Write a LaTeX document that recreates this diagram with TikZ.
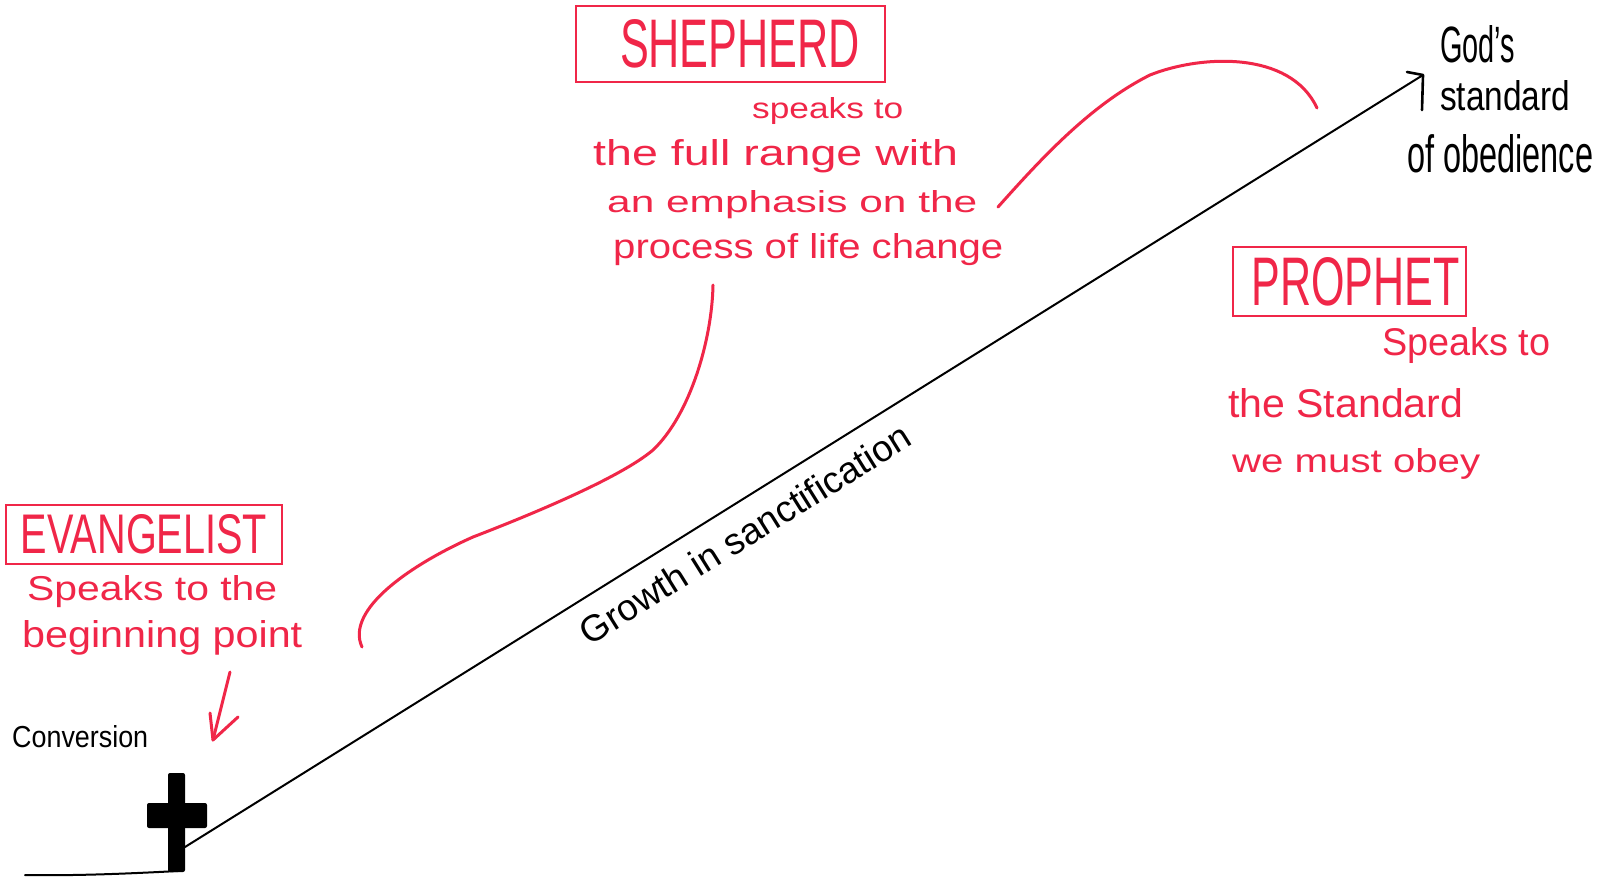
\documentclass[tikz,border=0pt]{standalone}
\usepackage{fontspec}
\usepackage{graphicx}
\setmainfont{Liberation Sans}
\definecolor{ink}{RGB}{240,38,72}
\newcommand{\hw}[3]{\resizebox{#1pt}{#2pt}{#3}}
\tikzset{
  redbox/.style={draw=ink, line width=1.6pt, inner sep=0pt, text=ink},
  redtxt/.style={text=ink, inner sep=0pt, anchor=base west},
  blktxt/.style={text=black, inner sep=0pt, anchor=base west},
  redline/.style={draw=ink, line width=3pt, line cap=round, line join=round},
  blkline/.style={draw=black, line width=2pt, line cap=round, line join=round}
}
\begin{document}
\begin{tikzpicture}[x=1pt,y=-1pt]
\useasboundingbox (0,0) rectangle (1600,883);
\fill[white] (0,0) rectangle (1600,883);

% ---- boxes with titles ----
\node[redbox, minimum width=309pt, minimum height=76pt] (shep) at (730.5,44) {\hspace{19pt}\hw{240}{48}{SHEPHERD}};
\node[redbox, minimum width=233pt, minimum height=69pt] (proph) at (1349.5,281.5) {\hspace{12pt}\hw{208}{48}{PROPHET}};
\node[redbox, minimum width=276pt, minimum height=59pt] (evan) at (144,534.5) {\hw{246}{39}{EVANGELIST}};

% ---- shepherd text ----
\node[redtxt] (s1) at (752,118) {\hw{151}{21}{speaks to}};
\node[redtxt] (s2) at (593,165) {\hw{365}{26}{the full range with}};
\node[redtxt] (s3) at (607,212) {\hw{370}{22}{an emphasis on the}};
\node[redtxt] (s4) at (613,258) {\hw{390}{25}{process of life change}};

% ---- prophet text ----
\node[redtxt] (p1) at (1382,355) {\hw{168}{28}{Speaks to}};
\node[redtxt] (p2) at (1228,417) {\hw{235}{29}{the Standard}};
\node[redtxt] (p3) at (1232,472) {\hw{248}{24}{we must obey}};

% ---- evangelist text ----
\node[redtxt] (e1) at (27,600) {\hw{250}{25}{Speaks to the}};
\node[redtxt] (e2) at (22,647) {\hw{280}{27}{beginning point}};

% ---- black labels ----
\node[blktxt] (g1) at (1440,62) {\hw{75}{37}{God's}};
\node[blktxt] (g2) at (1440,110) {\hw{130}{30}{standard}};
\node[blktxt] (g3) at (1407,172) {\hw{186}{38}{of obedience}};
\node[blktxt] (conv) at (12,747) {\hw{136}{22}{Conversion}};
\node[text=black, inner sep=0pt, rotate=32, font=\fontsize{37}{37}\selectfont] (grow) at (745,534) {Growth in sanctification};

% ---- cross and ground ----
\fill[black, rounded corners=2pt] (168,773) rectangle (185,872);
\fill[black, rounded corners=2pt] (147,803) rectangle (207,828);
\coordinate (groundL) at (25,875);
\coordinate (crossfoot) at (178,871);
\draw[blkline] (groundL) .. controls (80,876) and (140,873) .. (crossfoot);

% ---- main growth line with arrow ----
\coordinate (start) at (185,847);
\coordinate (goal) at (1423,75);
\coordinate (barbA) at (1407,72);
\coordinate (barbB) at (1422,110);
\draw[blkline] (start) -- (goal);
\draw[blkline, line width=2.6pt] (barbA) -- (goal) -- (barbB);

% ---- evangelist arrow ----
\coordinate (ea1) at (230,672);
\coordinate (ea2) at (213,740);
\coordinate (eb1) at (210,713);
\coordinate (eb2) at (238,717);
\draw[redline] (ea1) -- (ea2);
\draw[redline] (eb1) -- (ea2) -- (eb2);

% ---- shepherd range curves ----
\coordinate (lc1) at (713,285);
\coordinate (lc2) at (362,647);
\draw[redline] (lc1) .. controls (712,340) and (690,415) .. (653,450)
  .. controls (620,478) and (530,515) .. (473,537)
  .. controls (410,565) and (345,610) .. (lc2);
\coordinate (uc1) at (998,207);
\coordinate (uc2) at (1317,108);
\draw[redline] (uc1) .. controls (1040,160) and (1090,105) .. (1150,75)
  .. controls (1200,55) and (1290,50) .. (uc2);
\end{tikzpicture}
\end{document}
